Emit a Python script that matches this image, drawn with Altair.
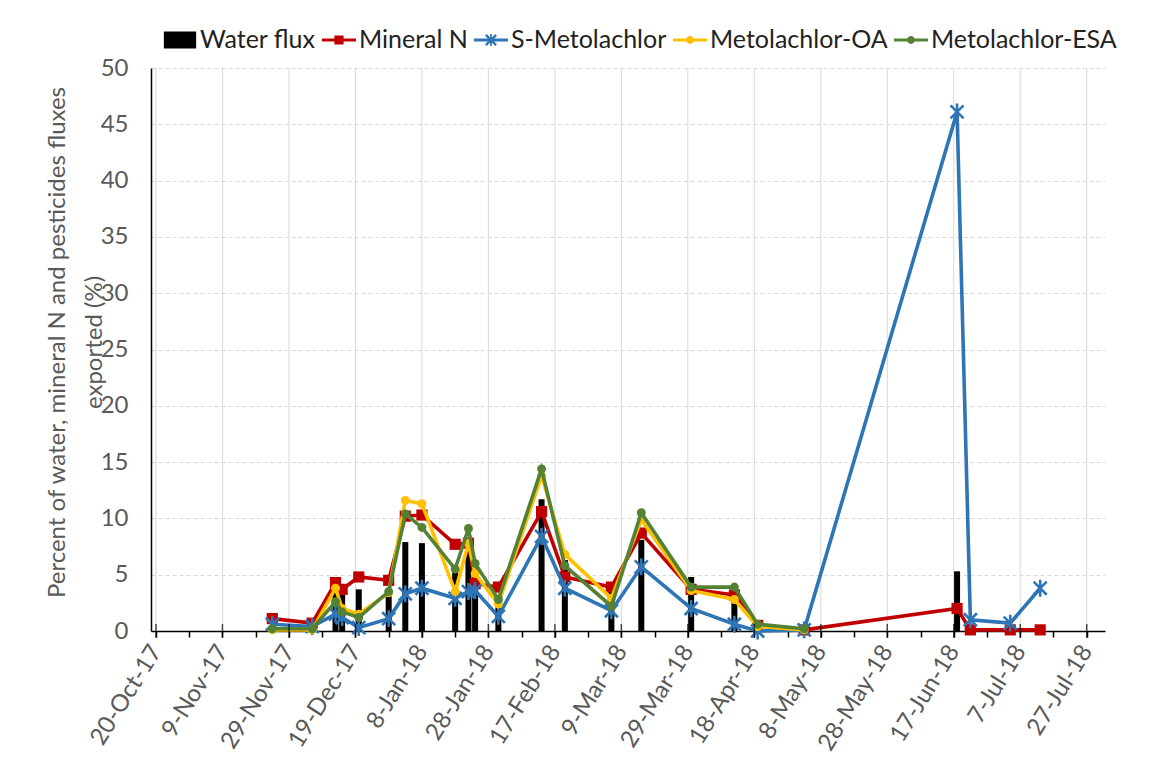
import altair as alt
import pandas as pd

# ---------------- data ----------------
sample_dates = ["2017-11-24", "2017-12-06", "2017-12-13", "2017-12-15", "2017-12-20", "2017-12-29",
                "2018-01-03", "2018-01-08", "2018-01-18", "2018-01-22", "2018-01-24", "2018-01-31",
                "2018-02-13", "2018-02-20", "2018-03-06", "2018-03-15", "2018-03-30", "2018-04-12",
                "2018-04-19", "2018-05-03", "2018-06-18", "2018-06-22", "2018-07-04", "2018-07-13"]
mineral_n = [1.1, 0.7, 4.3, 3.7, 4.8, 4.5, 10.2, 10.3, 7.7, 7.8, 4.2, 3.9,
             10.6, 4.8, 3.9, 8.7, 3.7, 3.2, 0.5, 0.1, 2.0, 0.1, 0.1, 0.1]
s_metolachlor = [0.6, 0.4, 1.5, 1.2, 0.3, 1.1, 3.3, 3.8, 2.9, 3.5, 3.6, 1.3,
                 8.4, 3.8, 1.8, 5.7, 2.0, 0.6, 0.0, 0.1, 46.1, 1.0, 0.7, 3.8]
metolachlor_oa = [0.1, 0.1, 3.8, 2.0, 1.5, 3.4, 11.6, 11.3, 3.5, 7.8, 5.1, 2.4,
                  13.8, 6.8, 2.9, 9.9, 3.6, 2.8, 0.4, 0.1]
metolachlor_esa = [0.2, 0.2, 2.6, 1.7, 1.2, 3.5, 10.4, 9.2, 5.5, 9.1, 6.0, 2.8,
                   14.4, 5.8, 2.2, 10.5, 3.9, 3.9, 0.6, 0.2]

water_dates = ["2017-12-13", "2017-12-15", "2017-12-20", "2017-12-29", "2018-01-03", "2018-01-08",
               "2018-01-18", "2018-01-22", "2018-01-24", "2018-01-31", "2018-02-13", "2018-02-20",
               "2018-03-06", "2018-03-15", "2018-03-30", "2018-04-12", "2018-04-19", "2018-06-18"]
water_flux = [3.4, 3.2, 3.7, 3.6, 7.9, 7.8, 5.8, 7.2, 5.9, 2.1, 11.7, 6.3,
              4.2, 8.1, 4.8, 2.7, 0.6, 5.3]

series_names = ["Water flux", "Mineral N", "S-Metolachlor", "Metolachlor-OA", "Metolachlor-ESA"]
series_colors = ["#000000", "#C00000", "#2E75B6", "#FFC000", "#548235"]

# axis ticks: labelled every 20 days, minor ticks every 10 days
major_ticks = pd.date_range("2017-10-20", "2018-07-27", freq="20D")
minor_ticks = pd.date_range("2017-10-20", "2018-07-27", freq="10D")

# ---------------- tables ----------------
line_series = [
    ("Mineral N", mineral_n),
    ("S-Metolachlor", s_metolachlor),
    ("Metolachlor-OA", metolachlor_oa),
    ("Metolachlor-ESA", metolachlor_esa),
]
bars_df = pd.DataFrame({"date": pd.to_datetime(water_dates), "value": water_flux})
major_df = pd.DataFrame({"date": major_ticks})
legend_df = pd.DataFrame({"series": series_names})


def dt(ts):
    return alt.DateTime(year=ts.year, month=ts.month, date=ts.day)


GRAY = "#595959"
FONT = "Lato"

x_scale = alt.Scale(domain=[alt.DateTime(year=2017, month=10, date=20),
                            alt.DateTime(year=2018, month=7, date=31)])
y_scale = alt.Scale(domain=[0, 50])

x_axis = alt.Axis(
    title=None,
    values=[dt(t) for t in minor_ticks],
    labelExpr="(round((datum.value - datetime(2017, 9, 20)) / 86400000) % 20 == 0) ? timeFormat(datum.value, '%-d-%b-%y') : ''",
    labelAngle=-58,
    labelAlign="right",
    labelBaseline="middle",
    labelPadding=10,
    labelOverlap=False,
    labelFontSize=24,
    labelColor=GRAY,
    labelFont=FONT,
    tickSize=6,
    tickColor="#000000",
    tickWidth=1.5,
    domainColor="#000000",
    domainWidth=1.5,
    grid=False,
)
y_axis = alt.Axis(
    title=["Percent of water, mineral N and pesticides fluxes", "exported (%)"],
    titleFontSize=24,
    titleFontWeight="normal",
    titleColor=GRAY,
    titleFont=FONT,
    titleLineHeight=37,
    titleX=-82,
    titleY=274,
    values=list(range(0, 55, 5)),
    labelFontSize=24,
    labelColor=GRAY,
    labelFont=FONT,
    labelPadding=23,
    ticks=False,
    tickSize=0,
    domainColor="#000000",
    domainWidth=1.5,
    grid=True,
    gridColor="#d9d9d9",
    gridDash=[4, 3],
)


def X(field):
    return alt.X(field, type="temporal", scale=x_scale, axis=x_axis)


def Y(field):
    return alt.Y(field, type="quantitative", scale=y_scale, axis=y_axis)


vgrid = alt.Chart(major_df).mark_rule(color="#d9d9d9", strokeWidth=1).encode(x=X("date"))

bars = alt.Chart(bars_df).mark_bar(color="#000000", size=6).encode(x=X("date"), y=Y("value"))

marker_shapes = {
    "Mineral N": dict(shape="square", size=125, filled=True),
    "S-Metolachlor": dict(shape="M-1,-1L1,1M-1,1L1,-1M0,-1.3L0,1.3", size=170, filled=False, strokeWidth=2.6),
    "Metolachlor-OA": dict(shape="circle", size=80, filled=True),
    "Metolachlor-ESA": dict(shape="circle", size=80, filled=True),
}

line_layers = []
for name, vals in line_series:
    df = pd.DataFrame({"date": pd.to_datetime(sample_dates[:len(vals)]), "value": vals})
    col = series_colors[series_names.index(name)]
    m = marker_shapes[name]
    line_layers.append(
        alt.Chart(df).mark_line(color=col, strokeWidth=3.6).encode(x=X("date"), y=Y("value"))
    )
    line_layers.append(
        alt.Chart(df).mark_point(color=col, opacity=1, **m).encode(x=X("date"), y=Y("value"))
    )

major_cross = alt.Chart(major_df).mark_tick(
    color="#000000", orient="vertical", size=14, thickness=1.5
).encode(x=X("date"), y=alt.Y(datum=0, scale=y_scale, axis=y_axis))

# legend symbols: unit-square svg paths (line + marker)
LINE = "M-1,-0.09L1,-0.09L1,0.09L-1,0.09Z"
legend_paths = [
    "M-0.95,-0.5L0.95,-0.5L0.95,0.5L-0.95,0.5Z",
    LINE + "M-0.27,-0.27L0.27,-0.27L0.27,0.27L-0.27,0.27Z",
    LINE + "M-0.25,-0.35L0.35,0.25L0.25,0.35L-0.35,-0.25Z"
         + "M-0.35,0.25L0.25,-0.35L0.35,-0.25L-0.25,0.35Z"
         + "M-0.05,-0.36L0.05,-0.36L0.05,0.36L-0.05,0.36Z",
    LINE + "M-0.23,0A0.23,0.23 0 1,1 0.23,0A0.23,0.23 0 1,1 -0.23,0Z",
    LINE + "M-0.23,0A0.23,0.23 0 1,1 0.23,0A0.23,0.23 0 1,1 -0.23,0Z",
]
legend_def = alt.Legend(
    title=None,
    orient="none",
    legendX=12,
    legendY=-45,
    direction="horizontal",
    columns=5,
    symbolSize=1156,
    symbolStrokeWidth=0,
    labelFontSize=25,
    labelFont=FONT,
    labelColor="#222222",
    labelLimit=400,
    labelOffset=3,
    columnPadding=6,
    padding=0,
)
legend_layer = alt.Chart(legend_df).mark_point(filled=True, clip=True, opacity=1).encode(
    x=alt.value(-200),
    y=alt.value(-200),
    color=alt.Color("series:N", scale=alt.Scale(domain=series_names, range=series_colors),
                    legend=legend_def, sort=series_names),
    shape=alt.Shape("series:N", scale=alt.Scale(domain=series_names, range=legend_paths),
                    legend=legend_def, sort=series_names),
)

chart = alt.layer(vgrid, bars, *line_layers, major_cross, legend_layer).properties(
    width=954,
    height=563,
    autosize=alt.AutoSizeParams(type="none"),
    padding={"left": 143, "top": 60, "right": 50, "bottom": 126},
    background="#ffffff",
).configure_view(stroke=None)

chart.save("out.html", embed_options={"renderer": "svg", "actions": False})
